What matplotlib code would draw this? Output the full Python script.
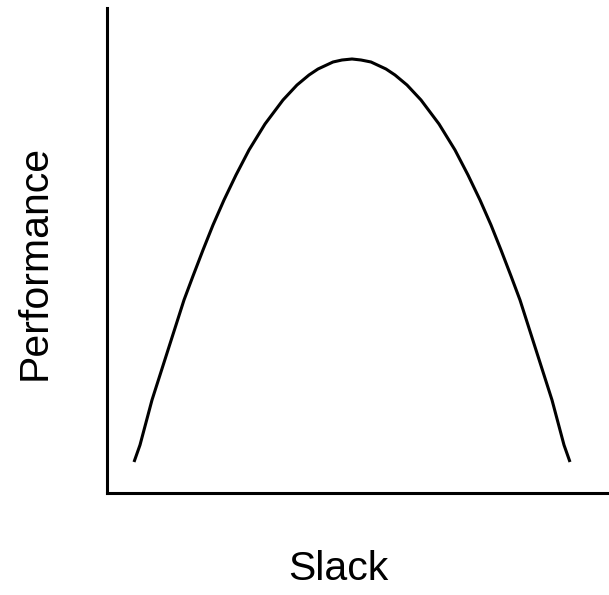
import matplotlib.pyplot as plt

# values (slack on x, performance on y, arbitrary units)
slack = [27, 33, 45, 53, 61, 69, 77, 86, 96, 106, 117, 129, 142, 158, 176, 190,
         202, 211, 226, 235, 245, 254, 264, 279, 288, 300, 314, 332, 348, 361,
         373, 384, 394, 404, 413, 421, 429, 437, 445, 457, 463]
performance = [31, 48, 93, 118, 143, 168, 193, 217, 243, 268, 293, 318, 343, 369, 393, 408,
               418, 424, 431, 433, 434, 433, 431, 424, 418, 408, 393, 369, 343, 318,
               293, 268, 243, 217, 193, 168, 143, 118, 93, 48, 31]

plt.rcParams['font.family'] = ['Liberation Sans', 'DejaVu Sans']

fig = plt.figure(figsize=(6.09, 5.95), dpi=100)
ax = fig.add_axes([107/609, 102/595, 502/609, 485/595])

ax.plot(slack, performance, color='black', linewidth=2.2,
        solid_capstyle='butt', solid_joinstyle='round')

ax.set_xlim(0, 502)
ax.set_ylim(0, 485)
ax.set_xticks([])
ax.set_yticks([])
for side in ['top', 'right']:
    ax.spines[side].set_visible(False)
for side in ['left', 'bottom']:
    ax.spines[side].set_linewidth(2.2)
    ax.spines[side].set_color('black')

fig.text(338/609, (595-569)/595, "Slack", fontsize=29.5, ha='center', va='center')
fig.text(35/609, (595-262)/595, "Performance", fontsize=29.5, rotation=90,
         ha='center', va='center')

fig.savefig("out.png", dpi=100)
